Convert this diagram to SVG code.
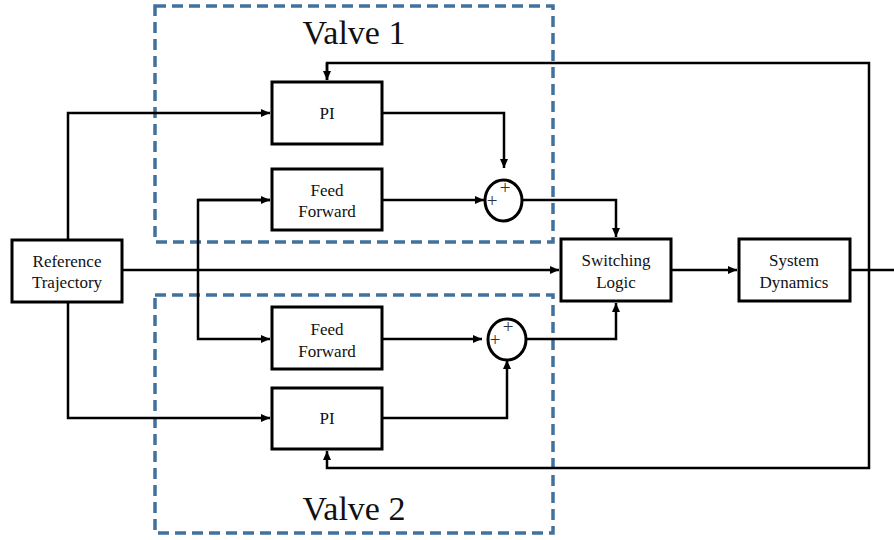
<svg xmlns="http://www.w3.org/2000/svg" width="894" height="540" viewBox="0 0 894 540">
<style>
.box{fill:#fff;stroke:#000;stroke-width:3}
.lbl{font-family:"Liberation Serif","Times New Roman",serif;font-size:17px;fill:#111;text-anchor:middle}
.big{font-family:"Liberation Serif","Times New Roman",serif;font-size:34px;fill:#111;text-anchor:middle}
.plus{font-family:"Liberation Serif","Times New Roman",serif;font-size:19px;fill:#333;text-anchor:middle}
.dash{fill:none;stroke:#41719C;stroke-width:3.5;stroke-dasharray:11 6}
.c{fill:none;stroke:#000;stroke-width:2.5}
.sum{fill:#fff;stroke:#000;stroke-width:3}
</style>
<defs>
<marker id="ah" markerUnits="userSpaceOnUse" markerWidth="10" markerHeight="10" refX="9" refY="4" orient="auto">
<path d="M0,0 L9,4 L0,8 z" fill="#000"/>
</marker>
</defs>
<rect width="894" height="540" fill="#fff"/>
<g id="valve1">
<rect class="dash" x="155" y="6" width="398" height="236"/>
<text class="big" x="354" y="44">Valve 1</text>
</g>
<g id="valve2">
<rect class="dash" x="155" y="295" width="398" height="238"/>
<text class="big" x="354" y="520">Valve 2</text>
</g>
<g id="connectors">
<polyline class="c" points="68,240 68,113 270,113" marker-end="url(#ah)"/>
<polyline class="c" points="68,302 68,418 270,418" marker-end="url(#ah)"/>
<line class="c" x1="122" y1="270" x2="559" y2="270" marker-end="url(#ah)"/>
<polyline class="c" points="270,200 198,200 198,339 270,339" marker-end="url(#ah)"/>
<line class="c" x1="198" y1="200" x2="270" y2="200" marker-end="url(#ah)"/>
<polyline class="c" points="382,113 504,113 504,168" marker-end="url(#ah)"/>
<line class="c" x1="382" y1="200" x2="484" y2="200" marker-end="url(#ah)"/>
<polyline class="c" points="522,200 616,200 616,237" marker-end="url(#ah)"/>
<line class="c" x1="382" y1="339" x2="482" y2="339" marker-end="url(#ah)"/>
<polyline class="c" points="382,418 507,418 507,360" marker-end="url(#ah)"/>
<polyline class="c" points="526,339 616,339 616,303" marker-end="url(#ah)"/>
<line class="c" x1="671" y1="270" x2="737" y2="270" marker-end="url(#ah)"/>
<line class="c" x1="850" y1="270" x2="894" y2="270"/>
<polyline class="c" points="327,80 327,63 869,63 869,468 327,468 327,451" marker-end="url(#ah)"/>
<line class="c" x1="327" y1="63" x2="327" y2="80" marker-end="url(#ah)"/>
</g>
<g id="ref">
<rect class="box" x="12" y="240" width="110" height="62"/>
<text class="lbl" x="67" y="267">Reference</text>
<text class="lbl" x="67" y="288">Trajectory</text>
</g>
<g id="pi1">
<rect class="box" x="272" y="82" width="110" height="62"/>
<text class="lbl" x="327" y="119">PI</text>
</g>
<g id="ff1">
<rect class="box" x="272" y="169" width="110" height="61"/>
<text class="lbl" x="327" y="196">Feed</text>
<text class="lbl" x="327" y="217">Forward</text>
</g>
<g id="sum1">
<ellipse class="sum" cx="503.5" cy="200.5" rx="18.5" ry="20.5"/>
<text class="plus" x="505" y="194">+</text>
<text class="plus" x="492" y="207">+</text>
</g>
<g id="ff2">
<rect class="box" x="272" y="307" width="110" height="62"/>
<text class="lbl" x="327" y="335">Feed</text>
<text class="lbl" x="327" y="357">Forward</text>
</g>
<g id="pi2">
<rect class="box" x="272" y="388" width="110" height="61"/>
<text class="lbl" x="327" y="424">PI</text>
</g>
<g id="sum2">
<ellipse class="sum" cx="507" cy="339.5" rx="19" ry="20.5"/>
<text class="plus" x="508" y="333">+</text>
<text class="plus" x="495" y="346">+</text>
</g>
<g id="switch">
<rect class="box" x="561" y="239" width="110" height="62"/>
<text class="lbl" x="616" y="266">Switching</text>
<text class="lbl" x="616" y="288">Logic</text>
</g>
<g id="sysdyn">
<rect class="box" x="739" y="239" width="111" height="62"/>
<text class="lbl" x="794" y="266">System</text>
<text class="lbl" x="794" y="288">Dynamics</text>
</g>
</svg>
